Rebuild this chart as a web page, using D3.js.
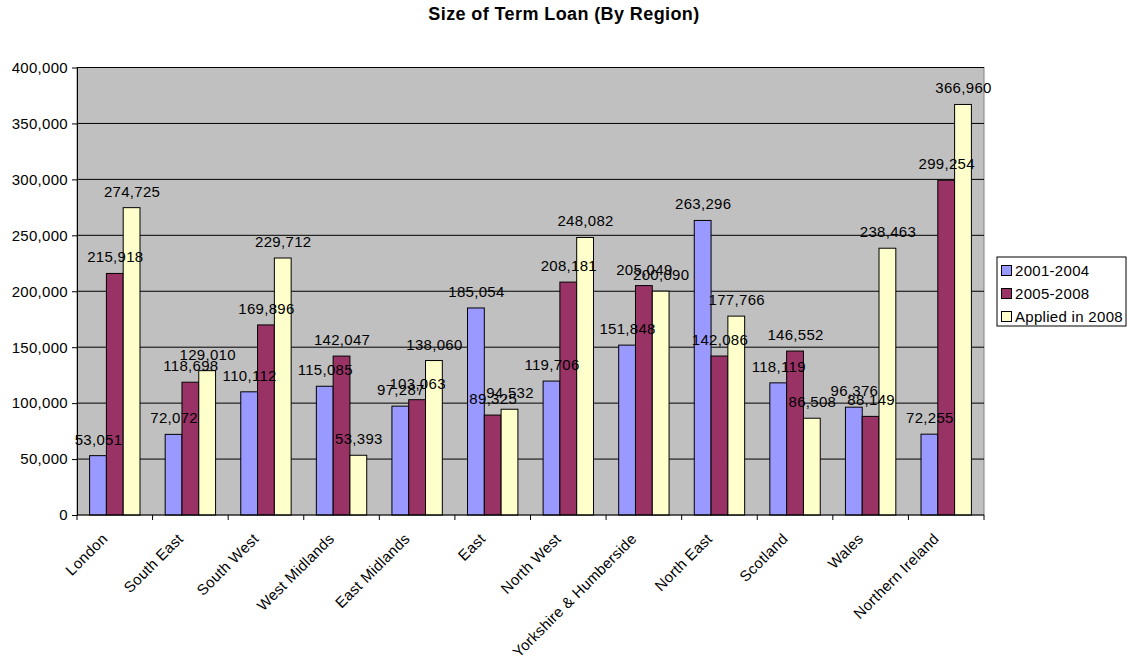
<!DOCTYPE html>
<html><head><meta charset="utf-8">
<script src="https://cdn.jsdelivr.net/npm/d3@7"></script>
<style>body{margin:0;background:#fff;}
svg text{font-family:"Liberation Sans",Arial,sans-serif;letter-spacing:0.3px;fill:#000;}
</style>
</head><body>
<svg id="c" width="1127" height="656"></svg>
<script>
const categories = ["London","South East","South West","West Midlands","East Midlands","East","North West","Yorkshire & Humberside","North East","Scotland","Wales","Northern Ireland"];
const seriesNames = ["2001-2004","2005-2008","Applied in 2008"];
const s2001 = [53051,72072,110112,115085,97287,185054,119706,151848,263296,118119,96376,72255];
const s2005 = [215918,118698,169896,142047,103063,89325,208181,205049,142086,146552,88149,299254];
const s2008 = [274725,129010,229712,53393,138060,94532,248082,200090,177766,86508,238463,366960];
const yTicks = [0,50000,100000,150000,200000,250000,300000,350000,400000];
const colors = ["#9999FF","#993366","#FFFFCC"];
const series = [s2001,s2005,s2008];

const svg = d3.select("#c");
const L=77, R=984, T=67.5, B=515;
const FS = 15;
const x = d3.scaleBand().domain(categories).range([L,R]).paddingInner(0).paddingOuter(0);
const xs = d3.scaleBand().domain(d3.range(3)).range([0,x.bandwidth()]).paddingInner(0).paddingOuter(0.75);
const y = d3.scaleLinear().domain([0,400000]).range([B,T]);
const fmt = d3.format(",");

svg.append("text").attr("x",564).attr("y",20).attr("text-anchor","middle")
  .attr("font-size",18).attr("font-weight","bold").style("letter-spacing","0.4px").text("Size of Term Loan (By Region)");

svg.append("rect").attr("x",L).attr("y",T).attr("width",R-L).attr("height",B-T).attr("fill","#C0C0C0").attr("stroke","#808080");

svg.append("g").selectAll("line").data(yTicks.slice(1)).join("line")
  .attr("x1",L).attr("x2",R).attr("y1",d=>y(d)).attr("y2",d=>y(d)).attr("stroke","#000").attr("stroke-width",1);

const gy = svg.append("g").attr("transform",`translate(${L},0)`)
  .call(d3.axisLeft(y).tickValues(yTicks).tickFormat(fmt).tickSize(5).tickSizeOuter(0));
gy.select(".domain").attr("stroke","#000");
gy.selectAll(".tick line").attr("stroke","#000");
gy.selectAll("text").attr("font-size",FS).attr("font-family",null).attr("dx",-1);

const groups = svg.append("g").selectAll("g").data(categories).join("g")
  .attr("transform",d=>`translate(${x(d)},0)`);
series.forEach((s,si)=>{
  groups.append("rect").attr("x",xs(si)).attr("width",xs.bandwidth())
    .attr("y",(d,i)=>y(s[i])).attr("height",(d,i)=>B-y(s[i]))
    .attr("fill",colors[si]).attr("stroke","#000").attr("stroke-width",1);
});
series.forEach((s,si)=>{
  groups.append("text").attr("x",xs(si)+xs.bandwidth()/2+0.5).attr("y",(d,i)=>y(s[i])-11)
    .attr("text-anchor","middle").attr("font-size",FS).text((d,i)=>fmt(s[i]));
});

// x axis
const gx = svg.append("g");
gx.append("line").attr("x1",L).attr("x2",R).attr("y1",B).attr("y2",B).attr("stroke","#000");
gx.selectAll("line.t").data(d3.range(categories.length+1)).join("line").attr("class","t")
  .attr("x1",i=>L+i*x.step()).attr("x2",i=>L+i*x.step()).attr("y1",B).attr("y2",B+5).attr("stroke","#000");
gx.selectAll("text").data(categories).join("text")
  .attr("transform",d=>`translate(${x(d)+x.bandwidth()/2-10},${B+21}) rotate(-45)`)
  .attr("text-anchor","end").attr("font-size",FS).attr("dy","0.35em").text(d=>d);

// legend
const lg = svg.append("g").attr("transform","translate(997,257)");
lg.append("rect").attr("width",129).attr("height",69).attr("fill","#fff").attr("stroke","#000");
seriesNames.forEach((n,i)=>{
  lg.append("rect").attr("x",4.5).attr("y",8.5+i*23).attr("width",10).attr("height",10).attr("fill",colors[i]).attr("stroke","#000");
  lg.append("text").attr("x",18).attr("y",18.5+i*23).attr("font-size",FS).text(n);
});
</script>
</body></html>
